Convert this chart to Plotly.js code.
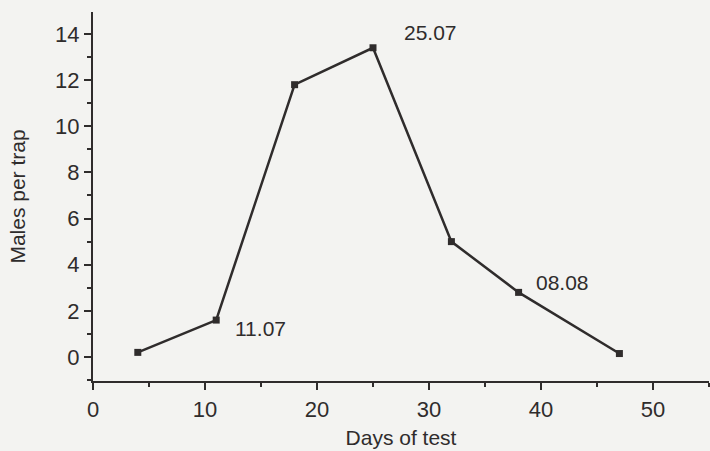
<!DOCTYPE html>
<html>
<head>
<meta charset="utf-8">
<script src="https://cdn.plot.ly/plotly-3.0.1.min.js"></script>
<style>html,body{margin:0;padding:0;background:#f3f3f1;}#chart{width:710px;height:451px;}</style>
</head>
<body>
<div id="chart"></div>
<script>
const days = [4, 11, 18, 25, 32, 38, 47];
const males = [0.2, 1.6, 11.8, 13.4, 5.0, 2.8, 0.15];
const labelDays = [11, 25, 38];
const labelMales = [1.6, 13.4, 2.8];
const labelTexts = ['11.07', '25.07', '08.08'];
const labelShiftX = [44, 57, 44];
const labelShiftY = [-8, 15, 10];

const ink = '#2f2c2c';
const font = {family: 'Liberation Sans, Arial, sans-serif', color: ink};

const trace = {
  x: days, y: males, type: 'scatter', mode: 'lines+markers',
  line: {color: ink, width: 2.5},
  marker: {symbol: 'square', size: 7, color: ink},
  hoverinfo: 'skip'
};

const annotations = labelTexts.map((t, i) => ({
  x: labelDays[i], y: labelMales[i], xref: 'x', yref: 'y',
  text: t, showarrow: false, xshift: labelShiftX[i], yshift: labelShiftY[i],
  font: Object.assign({}, font, {size: 21})
}));

const layout = {
  width: 710, height: 451,
  margin: {l: 93, r: 1, t: 12, b: 70},
  paper_bgcolor: '#f3f3f1', plot_bgcolor: 'rgba(0,0,0,0)',
  showlegend: false,
  xaxis: {
    range: [0, 55], showgrid: false, zeroline: false,
    showline: true, linecolor: ink, linewidth: 2.2,
    tickmode: 'array', tickvals: [0, 10, 20, 30, 40, 50],
    ticks: 'outside', ticklen: 7, tickwidth: 2, tickcolor: ink,
    minor: {tickvals: [5, 15, 25, 35, 45, 55], ticks: 'outside', ticklen: 4, tickwidth: 2, tickcolor: ink},
    tickfont: Object.assign({}, font, {size: 22}),
    title: {text: 'Days of test', font: Object.assign({}, font, {size: 21}), standoff: 10}
  },
  yaxis: {
    range: [-1.04, 14.95], showgrid: false, zeroline: false,
    showline: true, linecolor: ink, linewidth: 2.2,
    tickmode: 'array', tickvals: [0, 2, 4, 6, 8, 10, 12, 14],
    ticks: 'outside', ticklen: 7, tickwidth: 2, tickcolor: ink,
    minor: {tickvals: [-1, 1, 3, 5, 7, 9, 11, 13], ticks: 'outside', ticklen: 4, tickwidth: 2, tickcolor: ink},
    tickfont: Object.assign({}, font, {size: 22}),
    title: {text: 'Males per trap', font: Object.assign({}, font, {size: 21}), standoff: 24}
  },
  annotations: annotations
};

Plotly.newPlot('chart', [trace], layout, {displayModeBar: false, staticPlot: true});
</script>
</body>
</html>
